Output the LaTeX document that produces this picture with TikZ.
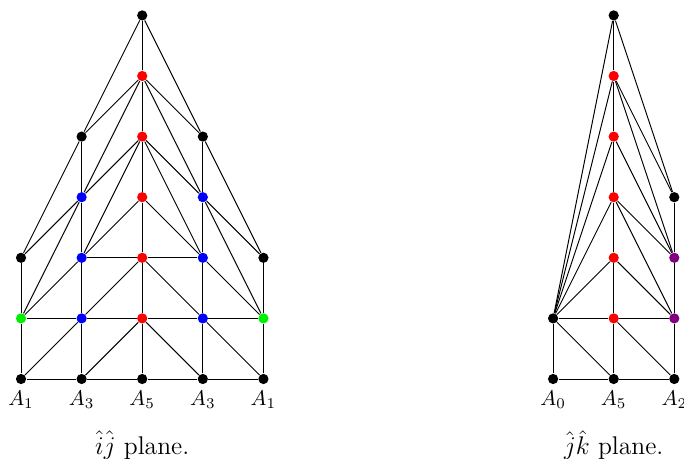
\documentclass[tikz,border=0pt]{standalone}
\usepackage{amsmath}
\usetikzlibrary{positioning,backgrounds}
\definecolor{vgreen}{RGB}{0,240,0}
\definecolor{vpurple}{RGB}{128,0,128}

\begin{document}
\begin{tikzpicture}[
  vtx/.style={circle, fill=#1, draw=none, inner sep=0pt, minimum size=4.8pt},
  vtx/.default=black,
  ed/.style={line width=0.45pt, draw=black},
  lab/.style={inner sep=2pt},
  capt/.style={inner sep=0pt, font=\large},
]
\useasboundingbox (-0.347,-1.32) rectangle (10.94,6.254);
% ij plane: vertices
\foreach \c/\r/\col in {0/0/black, 1/0/black, 2/0/black, 3/0/black, 4/0/black,
    0/1/vgreen, 1/1/blue, 2/1/red, 3/1/blue, 4/1/vgreen,
    0/2/black, 1/2/blue, 2/2/red, 3/2/blue, 4/2/black,
    1/3/blue, 2/3/red, 3/3/blue,
    1/4/black, 2/4/red, 3/4/black,
    2/5/red, 2/6/black} {
  \node[vtx=\col] (l\c\r) at (\c,\r) {};
}
% ij plane: edges
\begin{scope}[on background layer]
\foreach \a/\b in {00/01, 01/02, 10/11, 11/12, 12/13, 13/14,
    20/21, 21/22, 22/23, 23/24, 24/25, 25/26,
    30/31, 31/32, 32/33, 33/34, 40/41, 41/42,
    00/10, 10/20, 20/30, 30/40, 01/11, 11/21, 21/31, 31/41, 12/22, 22/32,
    00/11, 10/21, 30/21, 40/31, 01/12, 11/22, 31/22, 41/32,
    01/13, 41/33, 02/13, 02/14, 42/33, 42/34,
    12/23, 32/23, 12/24, 32/24, 13/24, 33/24,
    13/25, 33/25, 14/25, 34/25, 14/26, 34/26} {
  \draw[ed] (l\a) -- (l\b);
}
\end{scope}
\foreach \c/\t in {0/1, 1/3, 2/5, 3/3, 4/1} {
  \node[lab, below=0.6pt of l\c0] (al\c) {$A_{\t}$};
}
\node[capt] (capl) at (2,-1.09) {$\hat{i}\hat{j}$ plane.};
% jk plane
\begin{scope}[xshift=8.78cm]
\foreach \c/\r/\col in {0/0/black, 1/0/black, 2/0/black,
    0/1/black, 1/1/red, 2/1/vpurple,
    1/2/red, 2/2/vpurple, 1/3/red, 2/3/black,
    1/4/red, 1/5/red, 1/6/black} {
  \node[vtx=\col] (r\c\r) at (\c,\r) {};
}
\begin{scope}[on background layer]
\foreach \a/\b in {00/01, 10/11, 11/12, 12/13, 13/14, 14/15, 15/16,
    20/21, 21/22, 22/23, 00/10, 10/20, 01/11, 11/21,
    01/10, 11/20, 01/12, 01/13, 01/14, 01/15, 01/16,
    12/21, 13/21, 13/22, 14/22, 15/22, 15/23, 16/23} {
  \draw[ed] (r\a) -- (r\b);
}
\end{scope}
\foreach \c/\t in {0/0, 1/5, 2/2} {
  \node[lab, below=0.6pt of r\c0] (ar\c) {$A_{\t}$};
}
\node[capt] (capr) at (1,-1.09) {$\hat{j}\hat{k}$ plane.};
\end{scope}
\end{tikzpicture}
\end{document}
